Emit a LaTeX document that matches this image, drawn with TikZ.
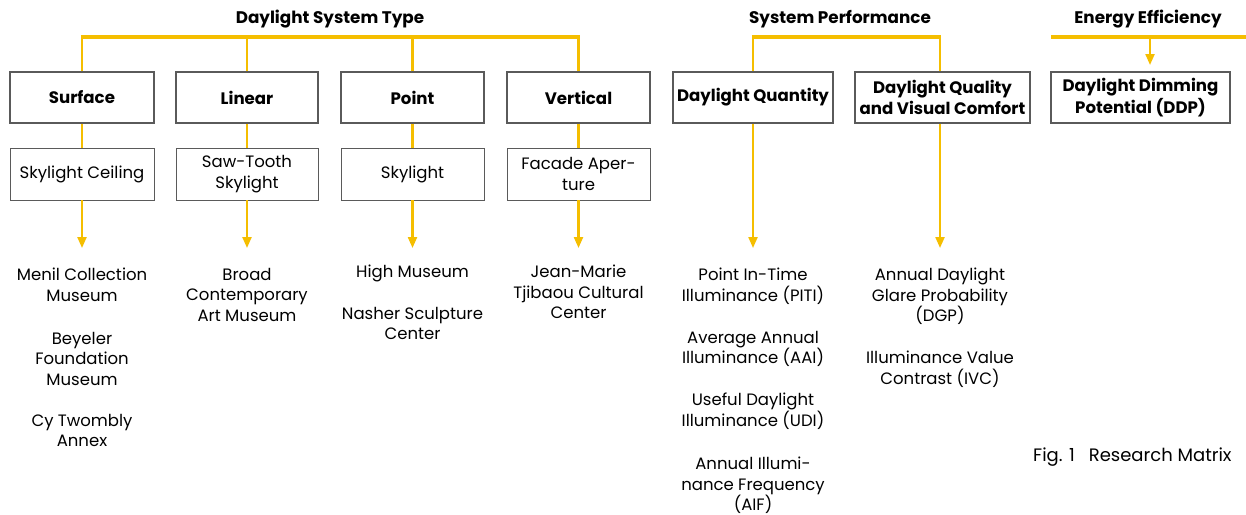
\documentclass[tikz,border=0pt]{standalone}
\usepackage{fontspec}
\setmainfont{Poppins}
\usetikzlibrary{arrows.meta}
\definecolor{gold}{RGB}{245,190,0}
\definecolor{boxgray}{RGB}{90,90,90}
\tikzset{
  hdr/.style={font=\fontsize{16.8}{19}\selectfont\bfseries, inner sep=0pt},
  topbox/.style={draw=boxgray, line width=1.1pt, minimum height=51pt, inner sep=1pt, align=center,
    font=\fontsize{16.6}{21.5}\selectfont\bfseries},
  subbox/.style={draw=boxgray, line width=0.9pt, minimum height=52pt, inner sep=1pt, align=center,
    font=\fontsize{16.5}{21}\selectfont},
  item/.style={align=center, inner sep=0pt, anchor=north, font=\fontsize{16.5}{20.4}\selectfont},
  bar/.style={draw=gold, line width=4pt},
  vline/.style={draw=gold, line width=2.2pt},
  yarrow/.style={draw=gold, line width=2.2pt, -{Triangle[width=9pt,length=11pt]}, gold},
}
\begin{document}
\begin{tikzpicture}[x=1pt,y=-1pt]
\useasboundingbox[fill=white] (0,0) rectangle (1246,514);
% titles
\node[hdr] (t1) at (330,19) {Daylight System Type};
\node[hdr] (t2) at (840,19) {System Performance};
\node[hdr] (t3) at (1148,19) {Energy Efficiency};
% top boxes
\node[topbox, minimum width=144pt] (s1) at (82,97.5) {Surface};
\node[topbox, minimum width=142pt] (s2) at (247,97.5) {Linear};
\node[topbox, minimum width=143pt] (s3) at (412.5,97.5) {Point};
\node[topbox, minimum width=143pt] (s4) at (578.5,97.5) {Vertical};
\node[topbox, minimum width=160pt] (q1) at (753,97.5) {Daylight Quantity};
\node[topbox, minimum width=175pt] (q2) at (942.5,97.5) {Daylight Quality\\and Visual Comfort};
\node[topbox, minimum width=179pt] (e1) at (1140.5,97.5) {Daylight Dimming\\Potential (DDP)};
% second row
\node[subbox, minimum width=144pt] (k1) at (82,174) {Skylight Ceiling};
\node[subbox, minimum width=142pt] (k2) at (247,174) {Saw-Tooth\\Skylight};
\node[subbox, minimum width=143pt] (k3) at (412.5,174) {Skylight};
\node[subbox, minimum width=143pt] (k4) at (578.5,174) {Facade Aper-\\ture};
% coordinates
\coordinate (h1) at (82,37);
\coordinate (h2) at (753,37);
\coordinate (h3a) at (1051,37);
\coordinate (h3b) at (1246,37);
\coordinate (e1top) at (1150,65);
\foreach \i/\x in {1/82,2/247,3/412.5,4/578.5,5/753,6/940}{\coordinate (a\i) at (\x,248);}
% bars
\draw[vline] (s1.north) -- (s1.north |- h1);
\draw[vline] (s2.north) -- (s2.north |- h1);
\draw[vline] (s3.north) -- (s3.north |- h1);
\draw[vline] (s4.north) -- (s4.north |- h1);
\draw[bar] ([xshift=-1.1pt]s1.north |- h1) -- ([xshift=1.1pt]s4.north |- h1);
\draw[vline] (q1.north) -- (q1.north |- h2);
\draw[vline] ([xshift=-2.5pt]q2.north) -- ([xshift=-2.5pt]q2.north |- h2);
\draw[bar] ([xshift=-1.1pt]q1.north |- h2) -- ([xshift=-1.4pt]q2.north |- h2);
\draw[bar] (h3a) -- (h3b);
\draw[yarrow] (e1top |- h3a) -- (e1top);
% vertical links
\draw[vline] (s1.south) -- (k1.north);
\draw[vline] (s2.south) -- (k2.north);
\draw[vline] (s3.south) -- (k3.north);
\draw[vline] (s4.south) -- (k4.north);
\draw[yarrow] (k1.south) -- (a1);
\draw[yarrow] (k2.south) -- (a2);
\draw[yarrow] (k3.south) -- (a3);
\draw[yarrow] (k4.south) -- (a4);
\draw[yarrow] (q1.south) -- (a5);
\draw[yarrow] ([xshift=-2.5pt]q2.south) -- (a6);
% items
\node[item] (m1) at (82,268) {Menil Collection\\Museum};
\node[item] (m2) at (82,332) {Beyeler\\Foundation\\Museum};
\node[item] (m3) at (82,414) {Cy Twombly\\Annex};
\node[item] (b1) at (247,268) {Broad\\Contemporary\\Art Museum};
\node[item] (p1) at (412.5,265) {High Museum};
\node[item] (p2) at (412.5,307) {Nasher Sculpture\\Center};
\node[item] (v1) at (578.5,265) {Jean-Marie\\Tjibaou Cultural\\Center};
\node[item] (d1) at (753,268) {Point In-Time\\Illuminance (PITI)};
\node[item] (d2) at (753,331) {Average Annual\\Illuminance (AAI)};
\node[item] (d3) at (753,393) {Useful Daylight\\Illuminance (UDI)};
\node[item] (d4) at (753,457) {Annual Illumi-\\nance Frequency\\(AIF)};
\node[item] (g1) at (940,268) {Annual Daylight\\Glare Probability\\(DGP)};
\node[item] (g2) at (940,351) {Illuminance Value\\Contrast (IVC)};
\node[inner sep=0pt, anchor=west, font=\fontsize{18}{20}\selectfont] (fig) at (1033,457) {Fig. 1\hspace{14pt}Research Matrix};
\end{tikzpicture}
\end{document}
